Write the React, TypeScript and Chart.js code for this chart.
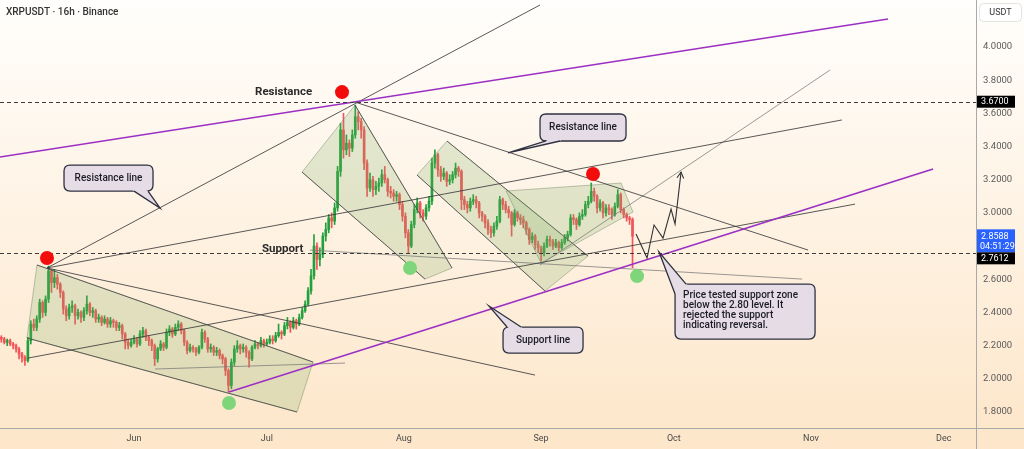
import { useEffect, useRef } from "react";
import { Chart, registerables } from "chart.js";

Chart.register(...registerables);

// ---------- DATA ----------
const firstCandleDay = -30; // days relative to 1 Jun
const candleStepDays = 2 / 3; // 16h candles

const opens = [
  2.25,2.24,2.22,2.23,2.21,2.20,2.18,2.15,2.13,2.11,
  2.23,2.33,2.31,2.36,2.46,2.40,2.48,2.65,2.58,2.61,
  2.57,2.52,2.42,2.38,2.43,2.44,2.38,2.40,2.37,2.41,
  2.45,2.40,2.41,2.36,2.37,2.34,2.36,2.33,2.35,2.34,
  2.31,2.32,2.27,2.22,2.20,2.22,2.24,2.21,2.27,2.29,
  2.25,2.23,2.20,2.12,2.18,2.21,2.19,2.28,2.30,2.27,
  2.31,2.33,2.29,2.22,2.17,2.19,2.18,2.16,2.19,2.28,
  2.24,2.18,2.19,2.16,2.17,2.14,2.12,2.05,1.96,2.10,
  2.18,2.20,2.18,2.19,2.16,2.12,2.19,2.21,2.20,2.23,
  2.21,2.22,2.24,2.23,2.26,2.28,2.27,2.32,2.34,2.31,
  2.35,2.33,2.37,2.41,2.45,2.53,2.62,2.80,2.72,2.75,
  2.86,2.90,2.97,2.95,3.03,3.25,3.50,3.38,3.42,3.39,
  3.47,3.58,3.55,3.50,3.30,3.15,3.20,3.14,3.16,3.18,
  3.23,3.20,3.13,3.12,3.10,3.11,3.05,2.98,2.88,2.80,
  2.93,3.02,3.06,3.00,2.98,3.03,3.07,3.30,3.35,3.26,
  3.22,3.24,3.19,3.20,3.23,3.27,3.25,3.08,3.05,3.03,
  3.07,3.08,3.06,3.00,2.98,2.94,2.90,2.88,2.92,2.95,
  3.08,3.05,3.02,3.00,2.93,3.00,2.97,2.96,2.94,2.90,
  2.84,2.86,2.81,2.79,2.76,2.80,2.84,2.83,2.80,2.82,
  2.79,2.82,2.85,2.87,2.97,2.96,2.93,2.98,2.99,3.05,
  3.07,3.13,3.10,3.03,3.06,3.00,3.03,3.02,2.99,3.04,
  3.11,3.02,2.99,2.97,2.96,
];
const highs = [
  2.26,2.25,2.24,2.24,2.22,2.21,2.19,2.16,2.14,2.25,
  2.35,2.36,2.38,2.48,2.47,2.50,2.68,2.66,2.66,2.63,
  2.58,2.53,2.44,2.45,2.47,2.45,2.42,2.41,2.43,2.50,
  2.46,2.43,2.42,2.39,2.38,2.38,2.37,2.37,2.36,2.35,
  2.34,2.33,2.28,2.24,2.24,2.26,2.25,2.29,2.31,2.30,
  2.26,2.24,2.21,2.19,2.23,2.22,2.30,2.32,2.31,2.33,
  2.35,2.34,2.30,2.23,2.21,2.20,2.19,2.20,2.30,2.29,
  2.25,2.21,2.20,2.19,2.18,2.15,2.13,2.06,2.12,2.20,
  2.23,2.21,2.21,2.20,2.17,2.20,2.23,2.22,2.25,2.24,
  2.24,2.26,2.26,2.28,2.33,2.29,2.34,2.37,2.35,2.37,
  2.36,2.39,2.43,2.47,2.55,2.66,2.87,2.82,2.79,2.88,
  2.94,2.99,3.00,3.06,3.28,3.54,3.60,3.47,3.44,3.50,
  3.65,3.61,3.57,3.52,3.32,3.24,3.22,3.19,3.21,3.26,
  3.28,3.21,3.16,3.14,3.13,3.12,3.07,3.00,2.90,2.95,
  3.05,3.09,3.07,3.02,3.05,3.10,3.33,3.38,3.36,3.28,
  3.27,3.25,3.23,3.25,3.30,3.28,3.26,3.10,3.07,3.09,
  3.11,3.10,3.07,3.01,2.99,2.96,2.92,2.94,2.98,3.10,
  3.09,3.07,3.04,3.01,3.02,3.01,2.99,2.98,2.95,2.91,
  2.88,2.87,2.83,2.80,2.82,2.86,2.86,2.84,2.84,2.83,
  2.84,2.87,2.89,2.99,2.99,2.97,3.00,3.02,3.07,3.10,
  3.18,3.15,3.11,3.08,3.07,3.05,3.05,3.03,3.06,3.14,
  3.12,3.03,3.00,2.98,2.97,
];
const lows = [
  2.22,2.21,2.20,2.20,2.18,2.16,2.12,2.10,2.08,2.10,
  2.21,2.29,2.29,2.34,2.37,2.38,2.46,2.52,2.55,2.54,
  2.49,2.39,2.35,2.36,2.40,2.33,2.36,2.34,2.35,2.39,
  2.38,2.37,2.34,2.34,2.32,2.33,2.31,2.31,2.31,2.29,
  2.29,2.24,2.18,2.18,2.19,2.21,2.19,2.20,2.25,2.23,
  2.20,2.17,2.08,2.10,2.17,2.17,2.18,2.26,2.25,2.26,
  2.29,2.27,2.20,2.15,2.16,2.16,2.14,2.15,2.18,2.22,
  2.16,2.16,2.14,2.14,2.12,2.09,2.02,1.92,1.94,2.08,
  2.16,2.15,2.16,2.13,2.07,2.11,2.18,2.18,2.19,2.19,
  2.20,2.21,2.21,2.22,2.25,2.24,2.26,2.30,2.28,2.30,
  2.30,2.32,2.36,2.40,2.44,2.51,2.60,2.66,2.68,2.73,
  2.83,2.88,2.91,2.93,3.01,3.22,3.33,3.35,3.34,3.37,
  3.45,3.50,3.45,3.26,3.10,3.13,3.10,3.11,3.13,3.16,
  3.18,3.10,3.09,3.07,3.07,3.02,2.95,2.85,2.76,2.79,
  2.91,3.00,2.97,2.95,2.96,3.01,3.05,3.27,3.22,3.19,
  3.20,3.16,3.17,3.18,3.21,3.22,3.02,3.02,3.00,3.01,
  3.05,3.03,2.97,2.95,2.91,2.87,2.85,2.86,2.90,2.94,
  3.02,3.00,2.97,2.86,2.92,2.95,2.93,2.91,2.87,2.81,
  2.82,2.78,2.76,2.71,2.74,2.79,2.80,2.78,2.79,2.77,
  2.78,2.81,2.83,2.86,2.93,2.90,2.92,2.96,2.98,3.03,
  3.06,3.07,3.00,3.01,2.97,2.98,2.99,2.96,2.98,3.03,
  3.00,2.97,2.95,2.93,2.67,
];
const closes = [
  2.24,2.22,2.23,2.21,2.20,2.18,2.15,2.13,2.11,2.23,
  2.33,2.31,2.36,2.46,2.40,2.48,2.65,2.58,2.61,2.57,
  2.52,2.42,2.38,2.43,2.44,2.38,2.40,2.37,2.41,2.45,
  2.40,2.41,2.36,2.37,2.34,2.36,2.33,2.35,2.34,2.31,
  2.32,2.27,2.22,2.20,2.22,2.24,2.21,2.27,2.29,2.25,
  2.23,2.20,2.12,2.18,2.21,2.19,2.28,2.30,2.27,2.31,
  2.33,2.29,2.22,2.17,2.19,2.18,2.16,2.19,2.28,2.24,
  2.18,2.19,2.16,2.17,2.14,2.12,2.05,1.96,2.10,2.18,
  2.20,2.18,2.19,2.16,2.12,2.19,2.21,2.20,2.23,2.21,
  2.22,2.24,2.23,2.26,2.28,2.27,2.32,2.34,2.31,2.35,
  2.33,2.37,2.41,2.45,2.53,2.62,2.80,2.72,2.75,2.86,
  2.90,2.97,2.95,3.03,3.25,3.50,3.38,3.42,3.39,3.47,
  3.58,3.55,3.50,3.30,3.15,3.20,3.14,3.16,3.18,3.23,
  3.20,3.13,3.12,3.10,3.11,3.05,2.98,2.88,2.80,2.93,
  3.02,3.06,3.00,2.98,3.03,3.07,3.30,3.35,3.26,3.22,
  3.24,3.19,3.20,3.23,3.27,3.25,3.08,3.05,3.03,3.07,
  3.08,3.06,3.00,2.98,2.94,2.90,2.88,2.92,2.95,3.08,
  3.05,3.02,3.00,2.93,3.00,2.97,2.96,2.94,2.90,2.84,
  2.86,2.81,2.79,2.76,2.80,2.84,2.83,2.80,2.82,2.79,
  2.82,2.85,2.87,2.97,2.96,2.93,2.98,2.99,3.05,3.07,
  3.13,3.10,3.03,3.06,3.00,3.03,3.02,2.99,3.04,3.11,
  3.02,2.99,2.97,2.96,2.8588,
];

const monthDays = [0, 30, 61, 92, 122, 153, 183];
const monthLabels = ["Jun", "Jul", "Aug", "Sep", "Oct", "Nov", "Dec"];
const priceTicks = [1.8, 2.0, 2.2, 2.4, 2.6, 3.0, 3.2, 3.4, 3.6, 3.8, 4.0];
const xMin = -30.3;
const xMax = 190.3;
const yMin = 1.7036;
const yMax = 4.283;

const dashedLevels = [3.67, 2.7612];
const lastPrice = 2.8588;
const countdown = "04:51:29";

// ---------- DRAWINGS (in day / price units) ----------
const purpleLines = [
  [[-30.3, 3.337], [170.4, 4.168]],
  [[21.46, 1.92], [180.6, 3.264]],
];
const darkLines = [
  [[-19.68, 2.668], [91.76, 4.253]],
  [[-19.68, 2.668], [160.0, 3.56]],
  [[-23.97, 2.125], [162.96, 3.053]],
  [[49.94, 3.668], [152.34, 2.776]],
  [[-19.68, 2.668], [90.63, 2.0226]],
];
const lightLines = [
  [[39.77, 2.776], [150.98, 2.601]],
  [[4.74, 2.059], [47.68, 2.095]],
  [[91.76, 2.686], [157.31, 3.861]],
];
const channelShapes = [
  [[-21.94, 2.686], [40.45, 2.101], [36.83, 1.8], [-24.2, 2.246]],
  [[37.96, 3.246], [49.94, 3.65], [71.87, 2.668], [65.77, 2.601]],
  [[63.96, 3.228], [70.74, 3.433], [102.61, 2.74], [92.89, 2.529]],
  [[84.08, 3.132], [110.07, 3.18], [112.78, 3.005], [91.99, 2.698]],
];
const channelDarkEdges = [[0, 2], [1, 3], [1, 3], []];
const projectionPath = [
  [113.46, 2.873], [115.95, 2.728], [117.53, 2.927], [119.56, 2.848],
  [121.37, 3.023], [122.28, 2.933], [123.63, 3.246],
];
const redDots = [[-19.68, 2.728], [47.0, 3.728], [103.74, 3.234]];
const greenDots = [[21.46, 1.854], [62.38, 2.668], [113.69, 2.619]];
const pivotLabels = [
  { text: "Resistance", at: [27.34, 3.728] },
  { text: "Support", at: [28.92, 2.782] },
];
const callouts = [
  { lines: ["Resistance line"], at: [91.76, 3.596], w: 86, h: 27, base: [[6, 27], [20, 27]], tip: [84.53, 3.361], center: true },
  { lines: ["Resistance line"], at: [-15.83, 3.288], w: 89, h: 26, base: [[70, 26], [84, 26]], tip: [5.87, 3.029], center: true },
  { lines: ["Support line"], at: [83.4, 2.312], w: 80, h: 26, base: [[4, 0], [18, 0]], tip: [80.23, 2.4385], center: true },
  {
    lines: ["Price tested support zone", "below the 2.80 level. It", "rejected the support", "indicating reversal."],
    at: [122.28, 2.571], w: 140, h: 55, base: [[0, 10], [11, 0]], tip: [118.66, 2.764], center: false,
  },
];

const FONT = "Roboto, 'Noto Sans', sans-serif";
const upColor = "#22a03c";
const downColor = "#f2545a";

const candleDays = closes.map((_, i) => firstCandleDay + i * candleStepDays);
const candleColors = closes.map((c, i) => (c >= opens[i] ? upColor : downColor));

function roundRect(ctx: CanvasRenderingContext2D, x: number, y: number, w: number, h: number, r: number) {
  ctx.beginPath();
  ctx.moveTo(x + r, y);
  ctx.lineTo(x + w - r, y);
  ctx.quadraticCurveTo(x + w, y, x + w, y + r);
  ctx.lineTo(x + w, y + h - r);
  ctx.quadraticCurveTo(x + w, y + h, x + w - r, y + h);
  ctx.lineTo(x + r, y + h);
  ctx.quadraticCurveTo(x, y + h, x, y + h - r);
  ctx.lineTo(x, y + r);
  ctx.quadraticCurveTo(x, y, x + r, y);
  ctx.closePath();
}

const backgroundPlugin = {
  id: "bg",
  beforeDraw(chart: any) {
    const { ctx, width, height } = chart;
    const g = ctx.createLinearGradient(0, 0, 0, height);
    g.addColorStop(0, "#fffefc");
    g.addColorStop(1, "#fde6c9");
    ctx.save();
    ctx.fillStyle = g;
    ctx.fillRect(0, 0, width, height);
    ctx.restore();
  },
};

const drawingsPlugin = {
  id: "drawings",
  afterDatasetsDraw(chart: any) {
    const { ctx, chartArea: a, scales } = chart;
    const xs = scales.x;
    const ys = scales.y;
    const P = (pt: number[]) => [xs.getPixelForValue(pt[0]), ys.getPixelForValue(pt[1])];
    ctx.save();
    ctx.beginPath();
    ctx.rect(a.left, a.top, a.right - a.left, a.bottom - a.top);
    ctx.clip();

    channelShapes.forEach((shape, k) => {
      const pts = shape.map(P);
      ctx.beginPath();
      pts.forEach(([x, y], i) => (i ? ctx.lineTo(x, y) : ctx.moveTo(x, y)));
      ctx.closePath();
      ctx.fillStyle = "rgba(125,175,95,0.22)";
      ctx.fill();
      ctx.strokeStyle = "rgba(110,130,100,0.45)";
      ctx.lineWidth = 1;
      ctx.stroke();
      channelDarkEdges[k].forEach((e) => {
        const p1 = pts[e];
        const p2 = pts[(e + 1) % pts.length];
        ctx.beginPath();
        ctx.moveTo(p1[0], p1[1]);
        ctx.lineTo(p2[0], p2[1]);
        ctx.strokeStyle = "rgba(70,70,70,0.8)";
        ctx.stroke();
      });
    });

    const seg = (l: number[][], color: string, w: number) => {
      const [p1, p2] = l.map(P);
      ctx.beginPath();
      ctx.moveTo(p1[0], p1[1]);
      ctx.lineTo(p2[0], p2[1]);
      ctx.strokeStyle = color;
      ctx.lineWidth = w;
      ctx.stroke();
    };
    lightLines.forEach((l) => seg(l, "rgba(120,120,120,0.75)", 1));
    darkLines.forEach((l) => seg(l, "rgba(60,60,60,0.85)", 1));
    purpleLines.forEach((l) => seg(l, "#9c2fc4", 1.6));

    ctx.setLineDash([4, 3]);
    dashedLevels.forEach((v) => {
      const y = Math.round(ys.getPixelForValue(v)) + 0.5;
      ctx.beginPath();
      ctx.moveTo(a.left, y);
      ctx.lineTo(a.right, y);
      ctx.strokeStyle = "#3c3c3c";
      ctx.lineWidth = 1;
      ctx.stroke();
    });
    ctx.setLineDash([]);

    const pp = projectionPath.map(P);
    ctx.beginPath();
    pp.forEach(([x, y], i) => (i ? ctx.lineTo(x, y) : ctx.moveTo(x, y)));
    ctx.strokeStyle = "#333";
    ctx.lineWidth = 1.1;
    ctx.stroke();
    const [ex, ey] = pp[pp.length - 1];
    const [bx, by] = pp[pp.length - 2];
    const ang = Math.atan2(ey - by, ex - bx);
    ctx.beginPath();
    ctx.moveTo(ex - 7 * Math.cos(ang - 0.5), ey - 7 * Math.sin(ang - 0.5));
    ctx.lineTo(ex, ey);
    ctx.lineTo(ex - 7 * Math.cos(ang + 0.5), ey - 7 * Math.sin(ang + 0.5));
    ctx.stroke();

    const dot = (pt: number[], color: string) => {
      const [x, y] = P(pt);
      ctx.beginPath();
      ctx.arc(x, y, 7, 0, Math.PI * 2);
      ctx.fillStyle = color;
      ctx.fill();
    };
    redDots.forEach((d) => dot(d, "#f20c0c"));
    greenDots.forEach((d) => dot(d, "#7fd67a"));

    ctx.font = `bold 11.5px ${FONT}`;
    ctx.fillStyle = "#2a2a2a";
    ctx.textBaseline = "middle";
    ctx.textAlign = "left";
    pivotLabels.forEach((l) => {
      const [x, y] = P(l.at);
      ctx.fillText(l.text, x, y);
    });

    callouts.forEach((c) => {
      const [bx0, by0] = P(c.at);
      const [tx, ty] = P(c.tip);
      const b1 = [bx0 + c.base[0][0], by0 + c.base[0][1]];
      const b2 = [bx0 + c.base[1][0], by0 + c.base[1][1]];
      const fill = "#e6dce5";
      const edge = "#2f3140";
      ctx.lineWidth = 1.3;
      roundRect(ctx, bx0, by0, c.w, c.h, 6);
      ctx.fillStyle = fill;
      ctx.fill();
      ctx.strokeStyle = edge;
      ctx.stroke();
      const cx = bx0 + c.w / 2;
      const cy = by0 + c.h / 2;
      const inset = (p: number[]) => [p[0] + (cx - p[0]) * 0.08, p[1] + (cy - p[1]) * 0.12];
      const i1 = inset(b1);
      const i2 = inset(b2);
      ctx.beginPath();
      ctx.moveTo(i1[0], i1[1]);
      ctx.lineTo(b1[0], b1[1]);
      ctx.lineTo(tx, ty);
      ctx.lineTo(b2[0], b2[1]);
      ctx.lineTo(i2[0], i2[1]);
      ctx.closePath();
      ctx.fillStyle = fill;
      ctx.fill();
      ctx.beginPath();
      ctx.moveTo(b1[0], b1[1]);
      ctx.lineTo(tx, ty);
      ctx.lineTo(b2[0], b2[1]);
      ctx.strokeStyle = edge;
      ctx.stroke();
      ctx.fillStyle = "#1c1c24";
      ctx.font = `500 10px ${FONT}`;
      ctx.textBaseline = "middle";
      if (c.center) {
        ctx.textAlign = "center";
        ctx.fillText(c.lines[0], bx0 + c.w / 2, by0 + c.h / 2 + 0.5);
      } else {
        ctx.textAlign = "left";
        c.lines.forEach((t, i) => ctx.fillText(t, bx0 + 8, by0 + 11.5 + i * 10));
      }
    });
    ctx.restore();
  },
};

const overlayPlugin = {
  id: "overlay",
  afterDraw(chart: any) {
    const { ctx, chartArea: a, scales, width, height } = chart;
    const ys = scales.y;
    ctx.save();
    ctx.strokeStyle = "#a9a9a9";
    ctx.lineWidth = 1;
    ctx.beginPath();
    ctx.moveTo(Math.round(a.right) + 0.5, 0);
    ctx.lineTo(Math.round(a.right) + 0.5, height);
    ctx.moveTo(0, Math.round(a.bottom) + 0.5);
    ctx.lineTo(width, Math.round(a.bottom) + 0.5);
    ctx.stroke();

    roundRect(ctx, a.right + 3.5, 3.5, 42, 18, 4);
    ctx.fillStyle = "#ffffff";
    ctx.fill();
    ctx.strokeStyle = "#e2e2e2";
    ctx.stroke();
    ctx.fillStyle = "#333";
    ctx.font = `9px ${FONT}`;
    ctx.textAlign = "center";
    ctx.textBaseline = "middle";
    ctx.fillText("USDT", a.right + 24.5, 13);

    const bx = a.right + 1;
    const bw = 38;
    ctx.textAlign = "left";
    ctx.font = `9px ${FONT}`;
    const y1 = ys.getPixelForValue(dashedLevels[0]);
    ctx.fillStyle = "#000";
    ctx.fillRect(bx, y1 - 6, bw, 12);
    ctx.fillStyle = "#fff";
    ctx.fillText(dashedLevels[0].toFixed(4), bx + 4, y1 + 0.5);

    const yl = ys.getPixelForValue(lastPrice);
    const blueTop = yl - 7;
    const blueBottom = yl + 16;
    ctx.fillStyle = "#2962ff";
    ctx.fillRect(bx, blueTop, bw, blueBottom - blueTop);
    ctx.fillStyle = "#fff";
    ctx.fillText(lastPrice.toFixed(4), bx + 4, yl + 0.5);
    ctx.fillText(countdown, bx + 3, yl + 10.5);

    const y2 = ys.getPixelForValue(dashedLevels[1]);
    const top2 = Math.max(y2 - 6, blueBottom);
    ctx.fillStyle = "#000";
    ctx.fillRect(bx, top2, bw, 12);
    ctx.fillStyle = "#fff";
    ctx.fillText(dashedLevels[1].toFixed(4), bx + 4, top2 + 6.5);

    ctx.fillStyle = "#333";
    ctx.font = `500 10px ${FONT}`;
    ctx.textBaseline = "middle";
    ctx.fillText("XRPUSDT · 16h · Binance", 6, 12);
    ctx.restore();
  },
};

export default function App() {
  const ref = useRef<HTMLCanvasElement>(null);
  useEffect(() => {
    const chart = new Chart(ref.current as HTMLCanvasElement, {
      type: "bar",
      data: {
        datasets: [
          {
            data: closes.map((c, i) => ({ x: candleDays[i], y: [opens[i], c] })),
            backgroundColor: candleColors,
            barThickness: 2,
            minBarLength: 1,
            grouped: false,
            borderWidth: 0,
            order: 0,
          } as any,
          {
            data: highs.map((h, i) => ({ x: candleDays[i], y: [lows[i], h] })),
            backgroundColor: candleColors,
            barThickness: 1,
            grouped: false,
            borderWidth: 0,
            order: 1,
          } as any,
        ],
      },
      options: {
        animation: false,
        responsive: false,
        maintainAspectRatio: false,
        layout: { padding: 0 },
        plugins: { legend: { display: false }, tooltip: { enabled: false } },
        scales: {
          x: {
            type: "linear",
            min: xMin,
            max: xMax,
            offset: false,
            grid: { display: false, drawTicks: false, offset: false },
            border: { display: false },
            afterBuildTicks: (s: any) => {
              s.ticks = monthDays.map((v) => ({ value: v }));
            },
            afterFit: (s: any) => {
              s.height = 21;
              s.paddingLeft = 0;
              s.paddingRight = 0;
              s.paddingTop = 0;
              s.paddingBottom = 0;
            },
            ticks: {
              autoSkip: false,
              maxRotation: 0,
              padding: 5,
              color: "#4a4a4a",
              font: { size: 9, family: FONT },
              callback: (_v: any, i: number) => monthLabels[i],
            },
          },
          y: {
            type: "linear",
            position: "right",
            min: yMin,
            max: yMax,
            grid: { display: false, drawTicks: false },
            border: { display: false },
            afterBuildTicks: (s: any) => {
              s.ticks = priceTicks.map((v) => ({ value: v }));
            },
            afterFit: (s: any) => {
              s.width = 48;
              s.paddingLeft = 0;
              s.paddingRight = 0;
              s.paddingTop = 0;
              s.paddingBottom = 0;
            },
            ticks: {
              padding: 7,
              color: "#5a5a5a",
              font: { size: 9.5, family: FONT },
              callback: (v: any) => Number(v).toFixed(4),
            },
          },
        },
      } as any,
      plugins: [backgroundPlugin, drawingsPlugin, overlayPlugin],
    });
    return () => chart.destroy();
  }, []);
  return (
    <div style={{ position: "fixed", left: 0, top: 0, width: 1024, height: 449 }}>
      <canvas ref={ref} width={1024} height={449} style={{ display: "block" }} />
    </div>
  );
}
